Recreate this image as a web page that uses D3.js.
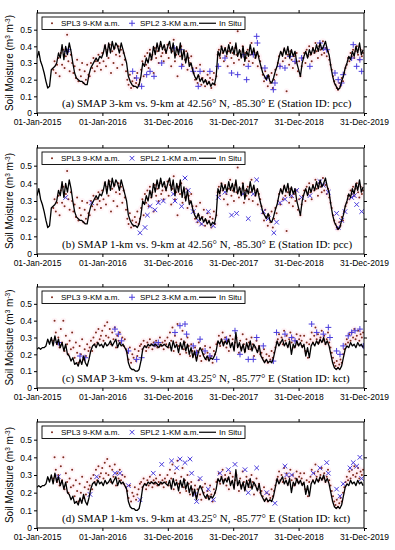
<!DOCTYPE html>
<html>
<head>
<meta charset="utf-8">
<script src="https://cdn.jsdelivr.net/npm/d3@7"></script>
<style>
  body { margin: 0; background: #fff; }
  svg { display: block; }
</style>
</head>
<body>
<div id="chart"></div>
<script>
// ---- data ----
const startDate = new Date(2015, 0, 1);
const endDate = new Date(2019, 11, 31);

const xTickDates = ["2015-01-01", "2016-01-01", "2016-12-31", "2017-12-31", "2018-12-31", "2019-12-31"];
const yTicks = [0, 0.1, 0.2, 0.3, 0.4, 0.5];

// in situ soil moisture, one value every 10 days from 01-Jan-2015
const inSituStep = 10;
const pccInSitu = [
  0.33, 0.37, 0.31, 0.28, 0.24, 0.19, 0.15, 0.16, 0.26, 0.27,
  0.28, 0.30, 0.36, 0.33, 0.41, 0.32, 0.40, 0.35, 0.42, 0.37,
  0.30, 0.24, 0.21, 0.20, 0.19, 0.19, 0.18, 0.17, 0.17, 0.23,
  0.27, 0.29, 0.31, 0.33, 0.31, 0.34, 0.33, 0.36, 0.41, 0.34,
  0.42, 0.36, 0.43, 0.38, 0.42, 0.40, 0.36, 0.42, 0.38, 0.34,
  0.30, 0.22, 0.19, 0.17, 0.16, 0.16, 0.15, 0.17, 0.22, 0.30,
  0.28, 0.33, 0.30, 0.36, 0.32, 0.40, 0.35, 0.42, 0.37, 0.43,
  0.38, 0.41, 0.36, 0.40, 0.43, 0.36, 0.42, 0.33, 0.40, 0.35,
  0.42, 0.32, 0.38, 0.30, 0.36, 0.28, 0.30, 0.25, 0.22, 0.20,
  0.23, 0.19, 0.21, 0.18, 0.20, 0.17, 0.19, 0.16, 0.18, 0.17,
  0.22, 0.37, 0.34, 0.40, 0.36, 0.39, 0.35, 0.41, 0.36, 0.40,
  0.35, 0.42, 0.34, 0.38, 0.33, 0.40, 0.31, 0.37, 0.34, 0.41,
  0.35, 0.39, 0.33, 0.37, 0.32, 0.28, 0.24, 0.22, 0.20, 0.23,
  0.19, 0.18, 0.21, 0.25, 0.28, 0.33, 0.37, 0.34, 0.39, 0.35,
  0.40, 0.33, 0.38, 0.34, 0.37, 0.30, 0.26, 0.22, 0.30, 0.34,
  0.37, 0.33, 0.38, 0.35, 0.39, 0.36, 0.41, 0.37, 0.42, 0.38,
  0.40, 0.43, 0.38, 0.35, 0.28, 0.22, 0.18, 0.16, 0.14, 0.15,
  0.19, 0.22, 0.27, 0.30, 0.34, 0.32, 0.37, 0.34, 0.40, 0.36,
  0.42, 0.35, 0.38
];
const kctInSitu = [
  0.23, 0.24, 0.23, 0.24, 0.24, 0.25, 0.29, 0.26, 0.30, 0.25,
  0.31, 0.26, 0.29, 0.24, 0.27, 0.22, 0.26, 0.20, 0.19, 0.16,
  0.18, 0.14, 0.15, 0.13, 0.17, 0.14, 0.19, 0.15, 0.13, 0.17,
  0.22, 0.25, 0.26, 0.24, 0.27, 0.25, 0.26, 0.24, 0.27, 0.25,
  0.26, 0.28, 0.25, 0.27, 0.29, 0.24, 0.27, 0.25, 0.26, 0.24,
  0.22, 0.15, 0.12, 0.11, 0.11, 0.10, 0.10, 0.11, 0.16, 0.23,
  0.25, 0.24, 0.26, 0.25, 0.26, 0.25, 0.26, 0.25, 0.24, 0.26,
  0.25, 0.26, 0.25, 0.24, 0.27, 0.22, 0.28, 0.24, 0.26, 0.21,
  0.27, 0.23, 0.28, 0.22, 0.26, 0.20, 0.24, 0.18, 0.22, 0.16,
  0.21, 0.24, 0.22, 0.19, 0.17, 0.19, 0.16, 0.18, 0.17, 0.19,
  0.22, 0.28, 0.26, 0.29, 0.25, 0.28, 0.26, 0.29, 0.24, 0.27,
  0.22, 0.33, 0.24, 0.27, 0.22, 0.26, 0.21, 0.27, 0.23, 0.28,
  0.22, 0.26, 0.24, 0.21, 0.25, 0.19, 0.17, 0.15, 0.17, 0.15,
  0.16, 0.15, 0.18, 0.23, 0.28, 0.25, 0.27, 0.29, 0.25, 0.27,
  0.24, 0.28, 0.20, 0.26, 0.24, 0.28, 0.25, 0.27, 0.24, 0.26,
  0.19, 0.24, 0.18, 0.25, 0.27, 0.25, 0.28, 0.26, 0.29, 0.27,
  0.30, 0.26, 0.28, 0.25, 0.20, 0.15, 0.12, 0.11, 0.12, 0.11,
  0.13, 0.18, 0.23, 0.25, 0.24, 0.27, 0.25, 0.26, 0.24, 0.27,
  0.25, 0.26, 0.24
];

// SPL3 9-km a.m. retrievals, one value every 7 days from day 91 (01-Apr-2015)
const spl3FirstDay = 91;
const spl3Step = 7;
const pccSpl3 = [
  0.26, 0.31, 0.24, 0.29,
  0.33, 0.22, 0.36, 0.29, 0.38, 0.27, 0.34, 0.47, 0.31, 0.25, 0.35, 0.30,
  0.24, 0.28, 0.21, 0.32, 0.19, 0.26, 0.22, 0.30, 0.18, 0.25, 0.20, 0.29, 0.23,
  0.22, 0.30, 0.27, 0.33, 0.25, 0.31, 0.28, 0.35, 0.30, 0.26,
  0.36, 0.31, 0.40, 0.28, 0.38, 0.33, 0.41, 0.24, 0.37, 0.30, 0.39, 0.35, 0.27, 0.40, 0.34, 0.38, 0.29, 0.36, 0.32, 0.25,
  0.20, 0.17, 0.23, 0.15, 0.19, 0.16, 0.21, 0.18, 0.24, 0.17, 0.20,
  0.26, 0.31, 0.22, 0.34, 0.29, 0.36, 0.27, 0.38, 0.32, 0.35, 0.24, 0.39, 0.33, 0.37, 0.30, 0.40, 0.34, 0.36, 0.31, 0.38,
  0.36, 0.41, 0.33, 0.39, 0.28, 0.37, 0.44, 0.31, 0.35, 0.22, 0.38, 0.34, 0.40, 0.29, 0.36, 0.32, 0.37, 0.26, 0.33, 0.30, 0.34, 0.27,
  0.24, 0.20, 0.27, 0.18, 0.22, 0.29, 0.17, 0.21, 0.25, 0.16, 0.19, 0.23, 0.18, 0.21, 0.15, 0.20, 0.24, 0.17, 0.22,
  0.35, 0.38, 0.33, 0.40, 0.36, 0.31, 0.39, 0.34, 0.28, 0.37, 0.42, 0.33, 0.36, 0.30, 0.39, 0.35, 0.49, 0.32, 0.37, 0.34,
  0.40, 0.29, 0.36, 0.33, 0.38, 0.31, 0.35, 0.42, 0.30, 0.37, 0.33, 0.36, 0.28, 0.34, 0.31,
  0.27, 0.23, 0.19, 0.25, 0.21, 0.16, 0.22, 0.18, 0.24, 0.15, 0.20, 0.26, 0.23,
  0.30, 0.34, 0.28, 0.36, 0.31, 0.38, 0.33, 0.13, 0.35, 0.29, 0.37, 0.32, 0.27, 0.34, 0.30, 0.36, 0.25, 0.31, 0.22,
  0.28, 0.33, 0.36, 0.30, 0.38, 0.34, 0.40, 0.35, 0.31, 0.39, 0.36, 0.42, 0.37, 0.33, 0.40, 0.38, 0.35, 0.43, 0.36, 0.39,
  0.34, 0.37, 0.32, 0.29, 0.26,
  0.22, 0.19, 0.17, 0.15, 0.14, 0.18, 0.16, 0.21, 0.19, 0.24, 0.27,
  0.29, 0.33, 0.31, 0.36, 0.34, 0.38, 0.33, 0.37, 0.40, 0.35, 0.32, 0.38, 0.34, 0.36
];
const kctSpl3 = [
  0.28, 0.40, 0.33, 0.26,
  0.30, 0.24, 0.35, 0.27, 0.40, 0.22, 0.31, 0.26, 0.20, 0.28, 0.23, 0.33,
  0.24, 0.18, 0.27, 0.21, 0.15, 0.25, 0.20, 0.29, 0.17, 0.23, 0.19, 0.26, 0.22,
  0.24, 0.28, 0.22, 0.30, 0.26, 0.33, 0.27, 0.35, 0.29, 0.31,
  0.34, 0.28, 0.37, 0.31, 0.39, 0.30, 0.35, 0.26, 0.33, 0.29, 0.36, 0.24, 0.31, 0.28, 0.33, 0.27, 0.30, 0.25, 0.29, 0.23,
  0.21, 0.17, 0.24, 0.15, 0.20, 0.18, 0.23, 0.16, 0.19, 0.22, 0.25,
  0.26, 0.23, 0.28, 0.25, 0.22, 0.27, 0.24, 0.29, 0.26, 0.23, 0.27, 0.25, 0.28, 0.24, 0.26, 0.30, 0.25, 0.27, 0.23, 0.28,
  0.26, 0.30, 0.24, 0.33, 0.28, 0.36, 0.22, 0.31, 0.27, 0.38, 0.25, 0.20, 0.29, 0.34, 0.23, 0.27, 0.21, 0.30, 0.25, 0.19, 0.26, 0.22,
  0.20, 0.24, 0.18, 0.22, 0.27, 0.19, 0.16, 0.23, 0.20, 0.25, 0.17, 0.21, 0.18, 0.24, 0.19, 0.15, 0.22, 0.20, 0.26,
  0.27, 0.31, 0.25, 0.29, 0.33, 0.27, 0.30, 0.24, 0.28, 0.22, 0.31, 0.26, 0.29, 0.23, 0.27, 0.30, 0.25, 0.21, 0.28, 0.24,
  0.32, 0.26, 0.22, 0.29, 0.25, 0.27, 0.23, 0.30, 0.26, 0.19, 0.24, 0.28, 0.22, 0.25, 0.20,
  0.21, 0.18, 0.23, 0.16, 0.20, 0.15, 0.19, 0.17, 0.22, 0.18, 0.21, 0.24, 0.27,
  0.29, 0.32, 0.27, 0.30, 0.26, 0.34, 0.28, 0.31, 0.25, 0.29, 0.33, 0.27, 0.30, 0.24, 0.28, 0.32, 0.26, 0.29, 0.31,
  0.28, 0.25, 0.31, 0.22, 0.27, 0.18, 0.26, 0.29, 0.33, 0.27, 0.31, 0.36, 0.29, 0.32, 0.27, 0.30, 0.34, 0.28, 0.31, 0.26,
  0.29, 0.33, 0.27, 0.24, 0.21,
  0.18, 0.15, 0.13, 0.16, 0.12, 0.14, 0.17, 0.15, 0.20, 0.23, 0.26,
  0.29, 0.27, 0.32, 0.28, 0.33, 0.30, 0.35, 0.29, 0.31, 0.34, 0.28, 0.32, 0.30, 0.33
];

// SPL2 retrievals as [day since 01-Jan-2015, value]
const pccSpl2_3km = [
  [166, 0.37], [175, 0.38], [534, 0.25], [556, 0.21], [584, 0.16], [612, 0.23], [631, 0.25], [653, 0.22],
  [696, 0.30], [765, 0.39], [798, 0.38], [807, 0.28], [872, 0.25], [900, 0.16], [910, 0.25], [965, 0.25],
  [1012, 0.28], [1049, 0.33], [1086, 0.24], [1120, 0.23], [1151, 0.35], [1170, 0.20], [1179, 0.28],
  [1207, 0.35], [1226, 0.46], [1230, 0.42], [1272, 0.27], [1282, 0.21], [1319, 0.14], [1328, 0.18],
  [1356, 0.28], [1384, 0.27], [1412, 0.34], [1440, 0.31], [1477, 0.33], [1523, 0.28], [1579, 0.42],
  [1598, 0.39], [1617, 0.38], [1663, 0.24], [1681, 0.20], [1700, 0.18], [1709, 0.23], [1756, 0.33],
  [1765, 0.41], [1784, 0.28], [1802, 0.32], [1812, 0.25]
];
const pccSpl2_1km = [
  [160, 0.32], [305, 0.29], [575, 0.12], [603, 0.15], [616, 0.22], [631, 0.27], [658, 0.25], [677, 0.29],
  [705, 0.30], [761, 0.34], [770, 0.30], [807, 0.27], [826, 0.43], [844, 0.36], [872, 0.24], [900, 0.19],
  [919, 0.17], [956, 0.24], [984, 0.16], [1012, 0.32], [1049, 0.35], [1086, 0.22], [1114, 0.23],
  [1151, 0.34], [1179, 0.20], [1207, 0.34], [1226, 0.42], [1263, 0.24], [1291, 0.20], [1322, 0.12],
  [1337, 0.18], [1356, 0.29], [1384, 0.31], [1421, 0.33], [1449, 0.36], [1477, 0.32], [1523, 0.33],
  [1579, 0.41], [1598, 0.39], [1626, 0.35], [1672, 0.23], [1681, 0.15], [1700, 0.19], [1719, 0.24],
  [1756, 0.32], [1771, 0.33], [1784, 0.28], [1812, 0.24]
];
const kctSpl2_3km = [
  [119, 0.27], [240, 0.19], [268, 0.18], [435, 0.35], [454, 0.32], [472, 0.28], [510, 0.22], [556, 0.17],
  [584, 0.18], [658, 0.26], [677, 0.27], [770, 0.33], [798, 0.37], [826, 0.38], [835, 0.32], [872, 0.25],
  [891, 0.21], [910, 0.29], [938, 0.22], [965, 0.19], [1003, 0.17], [1058, 0.29], [1105, 0.34],
  [1133, 0.20], [1179, 0.17], [1207, 0.17], [1226, 0.30], [1263, 0.25], [1319, 0.16], [1337, 0.33],
  [1384, 0.32], [1421, 0.30], [1440, 0.28], [1533, 0.38], [1561, 0.33], [1598, 0.32], [1626, 0.36],
  [1635, 0.30], [1672, 0.22], [1691, 0.20], [1709, 0.25], [1737, 0.31], [1756, 0.33], [1775, 0.34],
  [1802, 0.35], [1821, 0.25]
];
const kctSpl2_1km = [
  [119, 0.29], [296, 0.19], [333, 0.29], [435, 0.31], [463, 0.31], [510, 0.24], [575, 0.16], [649, 0.31],
  [696, 0.36], [751, 0.38], [780, 0.34], [798, 0.39], [826, 0.37], [854, 0.39], [863, 0.31], [882, 0.19],
  [891, 0.15], [910, 0.28], [956, 0.22], [984, 0.16], [1021, 0.31], [1068, 0.33], [1105, 0.36],
  [1161, 0.33], [1179, 0.20], [1226, 0.34], [1282, 0.20], [1328, 0.14], [1384, 0.35], [1393, 0.30],
  [1421, 0.30], [1542, 0.31], [1579, 0.34], [1617, 0.37], [1626, 0.31], [1672, 0.22], [1691, 0.18],
  [1709, 0.25], [1747, 0.34], [1765, 0.37], [1784, 0.35], [1802, 0.40], [1812, 0.28]
];

const panelTitles = [
  "(a) SMAP 3-km vs. 9-km at 42.56° N, -85.30° E (Station ID: pcc)",
  "(b) SMAP 1-km vs. 9-km at 42.56° N, -85.30° E (Station ID: pcc)",
  "(c) SMAP 3-km vs. 9-km at 43.25° N, -85.77° E (Station ID: kct)",
  "(d) SMAP 1-km vs. 9-km at 43.25° N, -85.77° E (Station ID: kct)"
];
const spl2Names = ["SPL2 3-KM a.m.", "SPL2 1-KM a.m.", "SPL2 3-KM a.m.", "SPL2 1-KM a.m."];

// ---- layout ----
const width = 395;
const height = 550;
const left = 37;
const right = 364;
const panels = [
  { top: 13, bottom: 113, inSitu: pccInSitu, spl3: pccSpl3, spl2: pccSpl2_3km, marker: "plus" },
  { top: 148, bottom: 254, inSitu: pccInSitu, spl3: pccSpl3, spl2: pccSpl2_1km, marker: "cross" },
  { top: 287, bottom: 388, inSitu: kctInSitu, spl3: kctSpl3, spl2: kctSpl2_3km, marker: "plus" },
  { top: 422, bottom: 528, inSitu: kctInSitu, spl3: kctSpl3, spl2: kctSpl2_1km, marker: "cross" }
];

const sans = "'Liberation Sans', Arial, sans-serif";
const serif = "'Liberation Serif', 'Times New Roman', serif";
const dotColor = "#7e2a1e";
const haloColor = "#ff9ab8";
const spl2Color = "#4a3cdc";

const markerPath = {
  plus: "M-3,0H3M0,-3V3",
  cross: "M-2.3,-2.3L2.3,2.3M-2.3,2.3L2.3,-2.3"
};

const dayToDate = d => d3.timeDay.offset(startDate, d);
const parse = d3.timeParse("%Y-%m-%d");
const fmt = d3.timeFormat("%d-%b-%Y");

const x = d3.scaleTime().domain([startDate, endDate]).range([left, right]);

const svg = d3.select("#chart")
  .append("svg")
  .attr("width", width)
  .attr("height", height)
  .style("background", "#fff");

panels.forEach((p, i) => {
  const y = d3.scaleLinear().domain([0, 0.6]).range([p.bottom, p.top]);
  const g = svg.append("g");

  g.append("clipPath").attr("id", "clip" + i)
    .append("rect")
    .attr("x", left).attr("y", p.top)
    .attr("width", right - left).attr("height", p.bottom - p.top);

  const plot = g.append("g").attr("clip-path", `url(#clip${i})`);

  const spl3Points = p.spl3.map((v, k) => ({ date: dayToDate(spl3FirstDay + k * spl3Step), value: v }));

  // pink halo round the 9-km dots
  plot.append("g").selectAll("circle")
    .data(spl3Points)
    .join("circle")
    .attr("cx", d => x(d.date))
    .attr("cy", d => y(d.value))
    .attr("r", 3)
    .attr("fill", haloColor)
    .attr("opacity", 0.11);

  plot.append("g").selectAll("circle")
    .data(spl3Points)
    .join("circle")
    .attr("cx", d => x(d.date))
    .attr("cy", d => y(d.value))
    .attr("r", 1)
    .attr("fill", dotColor);

  // SPL2 markers
  plot.append("g").selectAll("path")
    .data(p.spl2)
    .join("path")
    .attr("transform", d => `translate(${x(dayToDate(d[0]))},${y(d[1])})`)
    .attr("d", markerPath[p.marker])
    .attr("stroke", spl2Color)
    .attr("stroke-width", 1)
    .attr("fill", "none");

  // in situ line
  const line = d3.line()
    .x((d, k) => x(dayToDate(k * inSituStep)))
    .y(d => y(d));
  plot.append("path")
    .datum(p.inSitu)
    .attr("d", line)
    .attr("fill", "none")
    .attr("stroke", "#000")
    .attr("stroke-width", 1.3)
    .attr("stroke-linejoin", "round");

  // axes, ticks pointing out on all four sides
  const tickDates = xTickDates.map(parse);
  const styleAxis = sel => {
    sel.select(".domain").remove();
    sel.selectAll("line").attr("stroke", "#000");
    sel.selectAll("text").attr("fill", "#000").style("font-family", sans).style("font-size", "8.5px");
  };
  g.append("g")
    .attr("transform", `translate(0,${p.bottom})`)
    .call(d3.axisBottom(x).tickValues(tickDates).tickFormat(fmt).tickSize(3).tickPadding(3))
    .call(styleAxis);
  g.append("g")
    .attr("transform", `translate(0,${p.top})`)
    .call(d3.axisTop(x).tickValues(tickDates).tickFormat("").tickSize(3))
    .call(styleAxis);
  g.append("g")
    .attr("transform", `translate(${left},0)`)
    .call(d3.axisLeft(y).tickValues(yTicks).tickFormat(d3.format("~g")).tickSize(3).tickPadding(2))
    .call(styleAxis);
  g.append("g")
    .attr("transform", `translate(${right},0)`)
    .call(d3.axisRight(y).tickValues(yTicks).tickFormat("").tickSize(3))
    .call(styleAxis);

  g.append("rect")
    .attr("x", left).attr("y", p.top)
    .attr("width", right - left).attr("height", p.bottom - p.top)
    .attr("fill", "none").attr("stroke", "#000").attr("stroke-width", 1);

  // y label
  const yl = g.append("text")
    .attr("transform", `translate(13,${(p.top + p.bottom) / 2}) rotate(-90)`)
    .attr("text-anchor", "middle")
    .style("font-family", sans)
    .style("font-size", "10px");
  yl.append("tspan").text("Soil Moisture (m");
  yl.append("tspan").attr("baseline-shift", "super").style("font-size", "6.5px").text("3");
  yl.append("tspan").text(" m");
  yl.append("tspan").attr("baseline-shift", "super").style("font-size", "6.5px").text("-3");
  yl.append("tspan").text(")");

  // panel title
  g.append("text")
    .attr("x", 62)
    .attr("y", p.bottom - 6)
    .style("font-family", serif)
    .style("font-size", "11px")
    .text(panelTitles[i]);

  // legend
  const ly = p.top + 4;
  const lh = 12.5;
  const cy = ly + lh / 2;
  const lg = g.append("g");
  lg.append("rect")
    .attr("x", 42).attr("y", ly)
    .attr("width", 203).attr("height", lh)
    .attr("fill", "#fff").attr("stroke", "#000").attr("stroke-width", 0.9);
  lg.append("circle").attr("cx", 52).attr("cy", cy).attr("r", 1).attr("fill", dotColor);
  lg.append("path")
    .attr("transform", `translate(132,${cy})`)
    .attr("d", markerPath[p.marker])
    .attr("stroke", spl2Color).attr("fill", "none");
  lg.append("line")
    .attr("x1", 199).attr("x2", 216).attr("y1", cy).attr("y2", cy)
    .attr("stroke", "#000").attr("stroke-width", 1.2);
  const legText = [[61, "SPL3 9-KM a.m."], [140, spl2Names[i]], [219, "In Situ"]];
  lg.selectAll("text.leg")
    .data(legText)
    .join("text")
    .attr("class", "leg")
    .attr("x", d => d[0])
    .attr("y", cy + 3)
    .style("font-family", sans)
    .style("font-size", "8px")
    .text(d => d[1]);
});
</script>
</body>
</html>
